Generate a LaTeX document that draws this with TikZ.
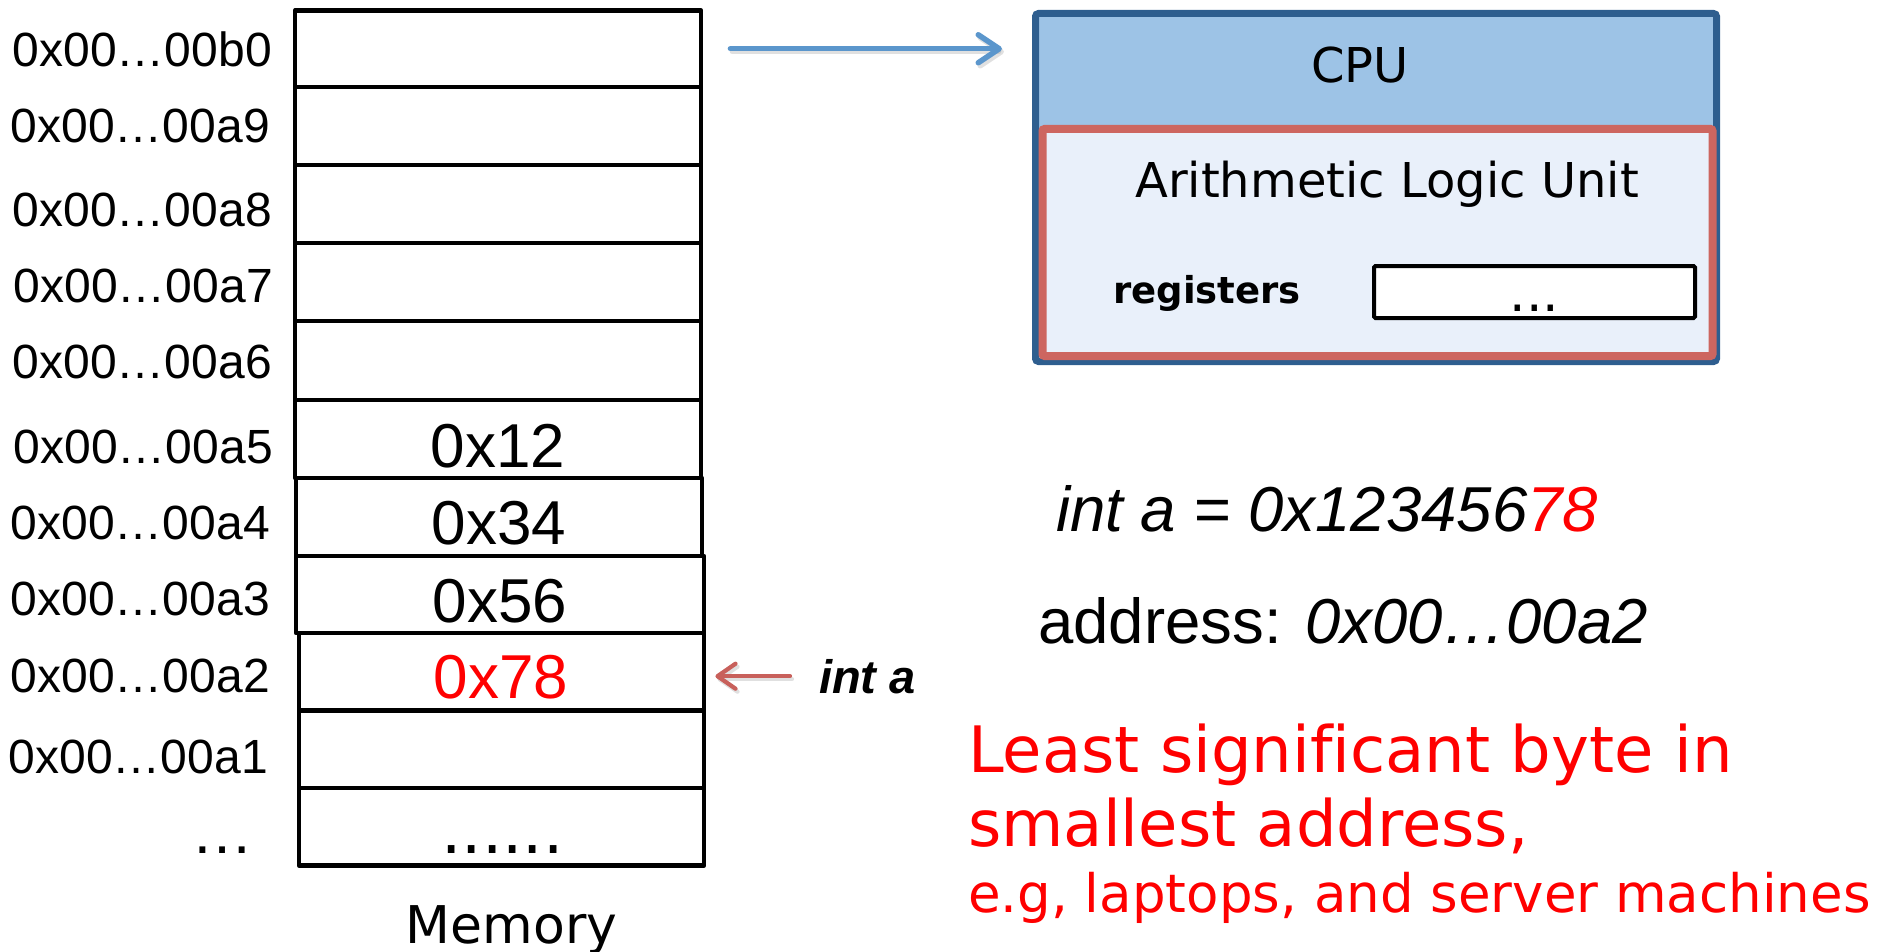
\documentclass[tikz,border=0pt]{standalone}
\usepackage{fontspec}
\setmainfont{Liberation Sans}
\newfontfamily\dv[Ligatures=NoCommon]{DejaVu Sans}
\usetikzlibrary{arrows.meta}

\definecolor{cpublue}{HTML}{9DC3E6}
\definecolor{cpuedge}{HTML}{2E5E8F}
\definecolor{aluedge}{HTML}{CD6660}
\definecolor{alufill}{HTML}{E9F0FA}
\definecolor{linkblue}{HTML}{5B96CC}
\definecolor{linkred}{HTML}{C8605B}
\definecolor{hotred}{HTML}{FF0000}

% font size in picture units (1 unit = 1pt)
\newcommand\setpx[1]{\fontsize{#1pt}{#1pt}\selectfont}

\begin{document}
\begin{tikzpicture}[x=1pt,y=-1pt,
  cell/.style={draw, line width=4.8pt, inner sep=0pt, fill=white, line join=round},
  addr/.style={anchor=base east, inner sep=0pt, font=\setpx{48}},
  byteval/.style={anchor=base, inner sep=0pt, font=\setpx{62}},
  plain/.style={inner sep=0pt},
  arrowshade/.style={draw=black!35, opacity=0.35, transform canvas={shift={(2pt,-3pt)}}},
  bluelink/.style={draw=linkblue, line width=5.5pt, line cap=round,
    -{Straight Barb[length=21pt, width=28pt, round]}},
  redlink/.style={draw=linkred, line width=4.2pt, line cap=round,
    -{Straight Barb[length=18pt, width=25pt, round]}}
]
\useasboundingbox (0,0) rectangle (1897,952);

% ---- memory column ----
\node[cell, minimum width=406pt, minimum height=76.5pt] (b0) at (498,48.75) {};
\node[cell, minimum width=406pt, minimum height=78pt] (a9) at (498,126) {};
\node[cell, minimum width=406pt, minimum height=78pt] (a8) at (498,204) {};
\node[cell, minimum width=406pt, minimum height=78pt] (a7) at (498,282) {};
\node[cell, minimum width=406pt, minimum height=79pt] (a6) at (498,360.5) {};
\node[cell, minimum width=406pt, minimum height=78pt] (a5) at (498,439) {};
\node[cell, minimum width=406pt, minimum height=78pt] (a4) at (499,517) {};
\node[cell, minimum width=408pt, minimum height=77pt] (a3) at (500,594.5) {};
\node[cell, minimum width=405pt, minimum height=77.5pt] (a2) at (501.5,671.75) {};
\node[cell, minimum width=405pt, minimum height=77.5pt] (a1) at (501.5,749.25) {};
\node[cell, minimum width=405pt, minimum height=77.5pt] (more) at (501.5,826.75) {};

% byte values
\node[byteval] (v12) at (498,467) {0x12};
\node[byteval] (v34) at (499,544) {0x34};
\node[byteval] (v56) at (500,622) {0x56};
\node[byteval, text=hotred] (v78) at (501,698) {0x78};
\node[plain, anchor=base, font=\dv\setpx{64}] (moredots) at (502.5,853) {......};

% addresses
\node[addr] (lb0) at (272,67) {0x00…00b0};
\node[addr] (la9) at (270,143) {0x00…00a9};
\node[addr] (la8) at (272,226) {0x00…00a8};
\node[addr] (la7) at (273,302) {0x00…00a7};
\node[addr] (la6) at (272,378) {0x00…00a6};
\node[addr] (la5) at (273,463) {0x00…00a5};
\node[addr] (la4) at (270,539) {0x00…00a4};
\node[addr] (la3) at (270,615) {0x00…00a3};
\node[addr] (la2) at (270,692) {0x00…00a2};
\node[addr] (la1) at (268,773) {0x00…00a1};
\node[plain, anchor=base, font=\setpx{62}] (lmore) at (222,853) {…};

\node[plain, anchor=base, font=\dv\setpx{52}] (memlabel) at (511.5,943) {Memory};

% ---- CPU ----
\node[draw=cpuedge, fill=cpublue, line width=7pt, rounded corners=3pt,
      minimum width=681pt, minimum height=348pt, inner sep=0pt] (cpu) at (1376,187.5) {};
\node[draw=aluedge, fill=alufill, line width=8pt, rounded corners=2pt,
      minimum width=670pt, minimum height=227pt, inner sep=0pt] (alu) at (1377.5,242.5) {};
\node[draw=black, fill=white, line width=4pt, rounded corners=1.5pt,
      minimum width=321pt, minimum height=52pt, inner sep=0pt] (regbox) at (1534.5,292) {};

\node[plain, anchor=base, font=\dv\setpx{48}] (cpulabel) at (1360,83) {CPU};
\node[plain, anchor=base, font=\dv\setpx{48}] (alulabel) at (1387,197) {Arithmetic Logic Unit};
\node[plain, anchor=base west, font=\dv\bfseries\setpx{37}] (reglabel) at (1113,303) {registers};
\node[plain, anchor=base, font=\dv\setpx{52}] (regdots) at (1534.5,311) {...};

% ---- connectors ----
\draw[bluelink, arrowshade, shorten <=27pt, shorten >=30pt] (b0.east) -- (b0.east -| cpu.west);
\draw[bluelink, shorten <=27pt, shorten >=30pt] (b0.east) -- (b0.east -| cpu.west);

\node[plain, anchor=base west, font=\bfseries\itshape\setpx{47}] (inta) at (819,693) {int a};
\draw[redlink, arrowshade, shorten <=29pt, shorten >=9pt] (inta.west) -- (inta.west -| a2.east);
\draw[redlink, shorten <=29pt, shorten >=9pt] (inta.west) -- (inta.west -| a2.east);

% ---- notes ----
\node[plain, anchor=base west, font=\itshape\setpx{63.5}] (decl) at (1056,531)
  {int a = 0x123456{\color{hotred}78}};
\node[plain, anchor=base west, font=\setpx{63.5}] (addrnote) at (1038,643)
  {address: \textit{0x00…00a2}};
\node[plain, anchor=base west, text=hotred, font=\dv\setpx{64}] (lsb1) at (968,772)
  {Least significant byte in};
\node[plain, anchor=base west, text=hotred, font=\dv\setpx{64}] (lsb2) at (968,846)
  {smallest address,};
\node[plain, anchor=base west, text=hotred, font=\dv\setpx{53}] (lsb3) at (968,912)
  {e.g, laptops, and server machines};
\end{tikzpicture}
\end{document}
